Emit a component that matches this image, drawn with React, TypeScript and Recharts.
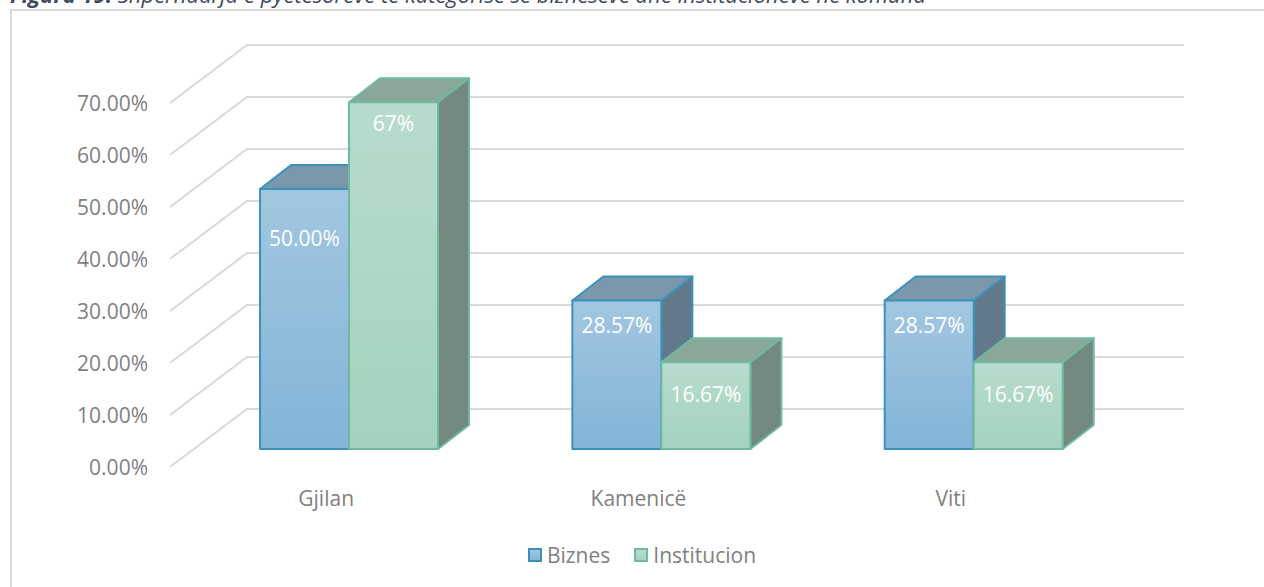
import React from 'react';
import { BarChart, Bar, XAxis, YAxis, CartesianGrid, LabelList, Legend } from 'recharts';

const categories = ['Gjilan', 'Kamenicë', 'Viti'];
const biznes = [50, 28.57, 28.57];
const institucion = [66.67, 16.67, 16.67];
const biznesLabels = ['50.00%', '28.57%', '28.57%'];
const institucionLabels = ['67%', '16.67%', '16.67%'];
const yTicks = [0, 10, 20, 30, 40, 50, 60, 70];

const chartData = categories.map((name, i) => ({
  name,
  biznes: biznes[i],
  institucion: institucion[i],
  biznesLabel: biznesLabels[i],
  institucionLabel: institucionLabels[i],
}));

const FONT = '"Open Sans", sans-serif';
const WALL_DX = 77;
const WALL_DY = -58;
// bars stand part way into the floor
const BAR_DX = 23.2;
const BAR_DY = -18;
const BAR_DEPTH_X = 31;
const BAR_DEPTH_Y = -24;

// how far below the bar top each label was placed by hand
const biznesDrop = [49, 25, 25];
const institucionDrop = [21, 32, 32];

const BLUE = { edge: '#3b92b9', top: '#7a97ac', side: '#61798a' };
const GREEN = { edge: '#6fb9a1', top: '#8ba79a', side: '#73897f' };

const GridLine = (props: any) => {
  const { x1, x2, y1 } = props;
  const d = `M${x1},${y1} L${x1 + WALL_DX},${y1 + WALL_DY} L${x2 + WALL_DX},${y1 + WALL_DY}`;
  return <path d={d} fill="none" stroke="#d9d9d9" strokeWidth={2} />;
};

const Box = (props: any) => {
  const { x, y, width, height, fill, tone } = props;
  const l = x + BAR_DX;
  const t = y + BAR_DY;
  const r = l + width;
  const b = t + height;
  const dx = BAR_DEPTH_X;
  const dy = BAR_DEPTH_Y;
  return (
    <g stroke={tone.edge} strokeWidth={2} strokeLinejoin="round">
      <path d={`M${l},${t} L${l + dx},${t + dy} L${r + dx},${t + dy} L${r},${t} Z`} fill={tone.top} />
      <path d={`M${r},${t} L${r + dx},${t + dy} L${r + dx},${b + dy} L${r},${b} Z`} fill={tone.side} />
      <rect x={l} y={t} width={width} height={height} fill={fill} />
    </g>
  );
};

const BoxLabel = (drops: number[]) => (props: any) => {
  const { x, y, width, value, index } = props;
  return (
    <text
      x={x + BAR_DX + width / 2}
      y={y + BAR_DY + drops[index]}
      fill="#ffffff"
      fontFamily={FONT}
      fontSize={21}
      textAnchor="middle"
      dominantBaseline="central"
    >
      {value}
    </text>
  );
};

const Swatch = ({ from, to, edge }: any) => (
  <span
    style={{
      display: 'inline-block',
      width: 10,
      height: 10,
      border: `2px solid ${edge}`,
      background: `linear-gradient(${from}, ${to})`,
    }}
  />
);

const LegendRow = () => (
  <div
    style={{
      display: 'flex',
      justifyContent: 'center',
      alignItems: 'center',
      fontFamily: FONT,
      fontSize: 21,
      color: '#7f7f7f',
    }}
  >
    <Swatch from="#a2c6e0" to="#82b5d8" edge={BLUE.edge} />
    <span style={{ marginLeft: 5, marginRight: 24 }}>Biznes</span>
    <Swatch from="#b8dbcd" to="#a3d3be" edge={GREEN.edge} />
    <span style={{ marginLeft: 5 }}>Institucion</span>
  </div>
);

export default function App() {
  return (
    <div style={{ position: 'absolute', left: 0, top: 0, width: 1264, height: 587, overflow: 'hidden', background: '#fff' }}>
      <div
        style={{
          position: 'absolute',
          left: 10,
          top: 9,
          right: -4,
          bottom: -4,
          borderLeft: '2px solid #d9d9d9',
          borderTop: '2px solid #d9d9d9',
        }}
      />
      <div
        style={{
          position: 'absolute',
          left: 10,
          top: -19,
          whiteSpace: 'nowrap',
          lineHeight: '26px',
          fontFamily: FONT,
          fontSize: 22,
          fontStyle: 'italic',
          color: '#3f4a5c',
        }}
      >
        <b>Figura 19.</b> Shpërndarja e pyetësorëve të kategorisë së bizneseve dhe institucioneve në komuna
      </div>
      <BarChart
        width={1264}
        height={587}
        data={chartData}
        margin={{ top: 103, right: 157, bottom: 62, left: 70 }}
        barCategoryGap="21.4%"
        barGap={0}
        style={{ position: 'absolute', left: 0, top: 0 }}
      >
        <defs>
          <linearGradient id="blueFace" x1="0" y1="0" x2="0" y2="1">
            <stop offset="0%" stopColor="#a2c6e0" />
            <stop offset="100%" stopColor="#82b5d8" />
          </linearGradient>
          <linearGradient id="greenFace" x1="0" y1="0" x2="0" y2="1">
            <stop offset="0%" stopColor="#b8dbcd" />
            <stop offset="100%" stopColor="#a3d3be" />
          </linearGradient>
        </defs>
        <CartesianGrid vertical={false} horizontal={(p: any) => <GridLine key={p.key ?? p.y1} {...p} />} />
        <XAxis
          dataKey="name"
          height={30}
          axisLine={false}
          tickLine={false}
          tickMargin={18}
          tick={{ fill: '#7f7f7f', fontFamily: FONT, fontSize: 21 }}
        />
        <YAxis
          width={100}
          domain={[0, 70]}
          ticks={yTicks}
          axisLine={false}
          tickLine={false}
          tickMargin={16}
          tickFormatter={(v: number) => `${v.toFixed(2)}%`}
          tick={{ fill: '#7f7f7f', fontFamily: FONT, fontSize: 21, dy: 1 }}
        />
        <Bar
          dataKey="biznes"
          name="Biznes"
          fill="url(#blueFace)"
          isAnimationActive={false}
          shape={(p: any) => <Box {...p} tone={BLUE} />}
        >
          <LabelList dataKey="biznesLabel" content={BoxLabel(biznesDrop)} />
        </Bar>
        <Bar
          dataKey="institucion"
          name="Institucion"
          fill="url(#greenFace)"
          isAnimationActive={false}
          shape={(p: any) => <Box {...p} tone={GREEN} />}
        >
          <LabelList dataKey="institucionLabel" content={BoxLabel(institucionDrop)} />
        </Bar>
        <Legend
          content={<LegendRow />}
          wrapperStyle={{ left: 0, width: 1284, top: 541, bottom: 'auto' }}
        />
      </BarChart>
    </div>
  );
}
